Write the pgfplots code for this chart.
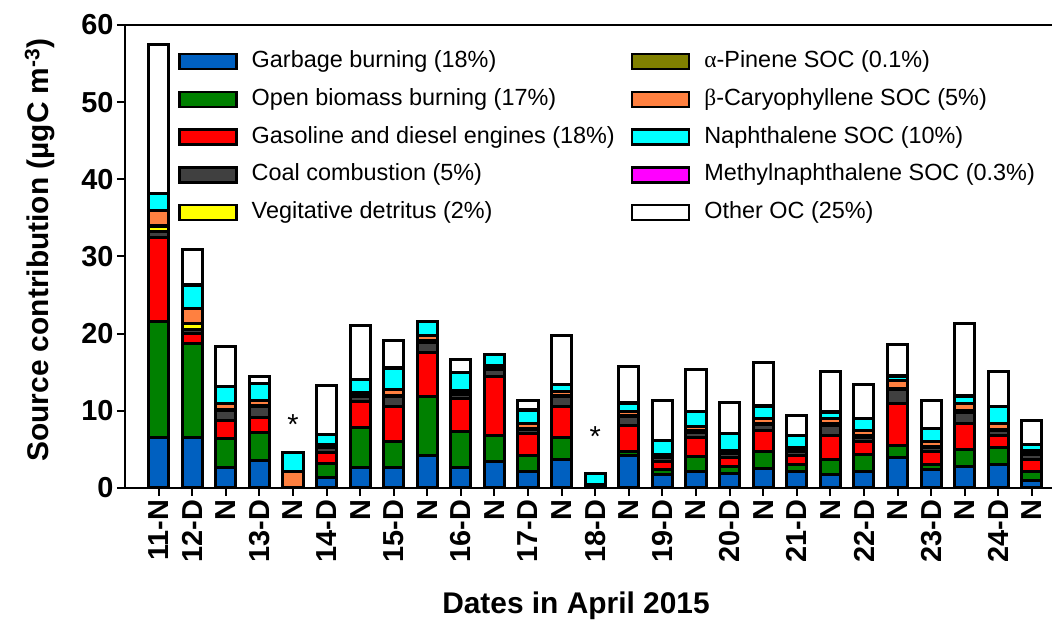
\documentclass[border=0pt]{standalone}
\usepackage{fontspec}
\setmainfont{Liberation Sans}
\newfontfamily\serifgr{Liberation Serif}
\usepackage{pgfplots}
\usepackage{pgfplotstable}
\pgfplotsset{compat=1.18}
\definecolor{cblue}{HTML}{0060C0}
\definecolor{cgreen}{HTML}{008000}
\definecolor{cred}{HTML}{FF0000}
\definecolor{cgray}{HTML}{404040}
\definecolor{cyel}{HTML}{FFFF00}
\definecolor{colive}{HTML}{808000}
\definecolor{corange}{HTML}{FF8040}
\definecolor{ccyan}{HTML}{00FFFF}
\definecolor{cmag}{HTML}{FF00FF}
\pgfplotstableread{
x  blue green red  gray yel  olive orange cyan mag  other
0  6.6  15.0  10.8 0.9  0.6  0.1   1.9    2.2  0.1  19.3
1  6.5  12.2  1.3  0.5  0.8  0.05  1.85   3.1  0.05 4.5
2  2.65 3.7   2.4  1.3  0.1  0.05  0.7    2.2  0.05 5.15
3  3.6  3.6   1.9  1.4  0.1  0.05  0.75   2.1  0.05 0.85
4  0    0     0    0    0    0     2.2    2.4  0    0
5  1.35 1.85  1.4  0.6  0.1  0.05  0.3    1.25 0.05 6.3
6  2.65 5.2   3.35 0.6  0.1  0.05  0.4    1.65 0.05 6.95
7  2.65 3.35  4.6  1.2  0.1  0.05  0.75   2.8  0.05 3.55
8  4.15 7.75  5.7  1.2  0.2  0.05  0.75   1.75 0.05 0
9  2.65 4.65  4.35 0.45 0.1  0.05  0.35   2.35 0.05 1.65
10 3.4  3.4   7.7  0.8  0.1  0.05  0.45   1.4  0.05 0
11 2.1  2.15  2.85 0.5  0.1  0.05  0.55   1.8  0.05 1.2
12 3.7  2.8   4.1  1.2  0.1  0.05  0.55   0.85 0.05 6.3
13 0    0     0    0    0    0     0.5    1.4  0    0
14 4.15 0.55  3.4  1.1  0.1  0.05  0.55   1.1  0.05 4.65
15 1.8  0.6   1.0  0.5  0.1  0.05  0.35   1.7  0.05 5.2
16 2.2  1.9   2.5  0.6  0.15 0.05  0.6    1.9  0.05 5.45
17 1.9  0.9   1.1  0.6  0.1  0.05  0.25   2.1  0.05 4.05
18 2.5  2.2   2.7  0.8  0.15 0.05  0.6    1.6  0.05 5.65
19 2.1  1.0   1.1  0.5  0.1  0.05  0.45   1.5  0.05 2.55
20 1.8  1.85  3.15 1.3  0.15 0.05  0.7    0.8  0.05 5.25
21 2.1  2.2   1.75 0.55 0.15 0.05  0.7    1.5  0.05 4.35
22 3.9  1.6   5.5  1.7  0.2  0.05  0.95   0.6  0.05 4.1
23 2.4  0.6   1.7  0.5  0.15 0.05  0.6    1.65 0.05 3.7
24 2.8  2.25  3.35 1.4  0.2  0.05  0.95   0.9  0.05 9.4
25 3.0  2.25  1.55 0.6  0.15 0.05  0.7    2.2  0.05 4.55
26 1.0  1.1   1.6  0.6  0.15 0.05  0.4    0.7  0.05 3.05
}\data
\begin{document}
\begin{tikzpicture}
\begin{axis}[name=ax,
  width=927bp, height=463bp, scale only axis,
  xmin=-1, xmax=26.6, ymin=0, ymax=60,
  ybar stacked, bar width=0.6,
  axis x line=box, axis y line=left,
  axis line style={line width=2.5bp, -},
  every tick/.style={black, line width=2bp},
  tick align=outside, major tick length=8bp,
  xtick pos=bottom, ytick pos=left,
  xtick={0,...,26},
  xticklabels={11-N,12-D,N,13-D,N,14-D,N,15-D,N,16-D,N,17-D,N,18-D,N,19-D,N,20-D,N,21-D,N,22-D,N,23-D,N,24-D,N},
  ytick={0,10,...,60},
  /pgf/number format/assume math mode=true,
  tick label style={font=\fontsize{29}{34}\selectfont\bfseries},
  xticklabel style={rotate=90, anchor=east},
  xlabel={Dates in April 2015},
  ylabel={Source contribution (µgC m\textsuperscript{-3})},
  label style={font=\fontsize{30}{36}\selectfont\bfseries},
  xlabel style={at={(axis description cs:0.4865,-0.255)}, anchor=center},
  ylabel style={at={(axis description cs:-0.092,0.514)}, anchor=center},
  clip=false,
  legend image code/.code={\draw[#1, line width=2.5bp] (0bp,-7.5bp) rectangle (57bp,7.5bp);},
  legend columns=5, transpose legend,
  legend cell align=left,
  legend style={draw=none, fill=none, inner sep=0pt,
    at={(axis description cs:0.0572,0.945)}, anchor=north west,
    font=\fontsize{23.5}{28}\selectfont,
    nodes={inner sep=0pt, text height=17bp, text depth=5bp},
    row sep=15.7bp,
    /tikz/every odd column/.style={column sep=14bp},
    /tikz/every even column/.style={column sep=16bp}},
]
\addplot[fill=cblue, draw=black, line width=3bp] table[x=x,y=blue]{\data};
\addplot[fill=cgreen, draw=black, line width=3bp] table[x=x,y=green]{\data};
\addplot[fill=cred, draw=black, line width=3bp] table[x=x,y=red]{\data};
\addplot[fill=cgray, draw=black, line width=3bp] table[x=x,y=gray]{\data};
\addplot[fill=cyel, draw=black, line width=3bp] table[x=x,y=yel]{\data};
\addplot[fill=colive, draw=black, line width=3bp] table[x=x,y=olive]{\data};
\addplot[fill=corange, draw=black, line width=3bp] table[x=x,y=orange]{\data};
\addplot[fill=ccyan, draw=black, line width=3bp] table[x=x,y=cyan]{\data};
\addplot[fill=cmag, draw=black, line width=3bp] table[x=x,y=mag]{\data};
\addplot[fill=white, draw=black, line width=3bp] table[x=x,y=other]{\data};
\addlegendentry{Garbage burning (18\%)}
\addlegendentry{Open biomass burning (17\%)}
\addlegendentry{Gasoline and diesel engines (18\%)}
\addlegendentry{Coal combustion (5\%)}
\addlegendentry{Vegitative detritus (2\%)}
\addlegendentry{{\serifgr α}-Pinene SOC (0.1\%)}
\addlegendentry{{\serifgr β}-Caryophyllene SOC (5\%)}
\addlegendentry{Naphthalene SOC (10\%)}
\addlegendentry{Methylnaphthalene SOC (0.3\%)}
\addlegendentry{Other OC (25\%)}
\node[font=\fontsize{29}{34}\selectfont] at (axis cs:4,8.2) {*};
\node[font=\fontsize{29}{34}\selectfont] at (axis cs:13,6.7) {*};
\end{axis}
\pgfresetboundingbox
\path[use as bounding box] ([xshift=-125bp,yshift=-140bp]ax.south west) rectangle ([xshift=6bp,yshift=25bp]ax.north east);
\end{tikzpicture}
\end{document}
